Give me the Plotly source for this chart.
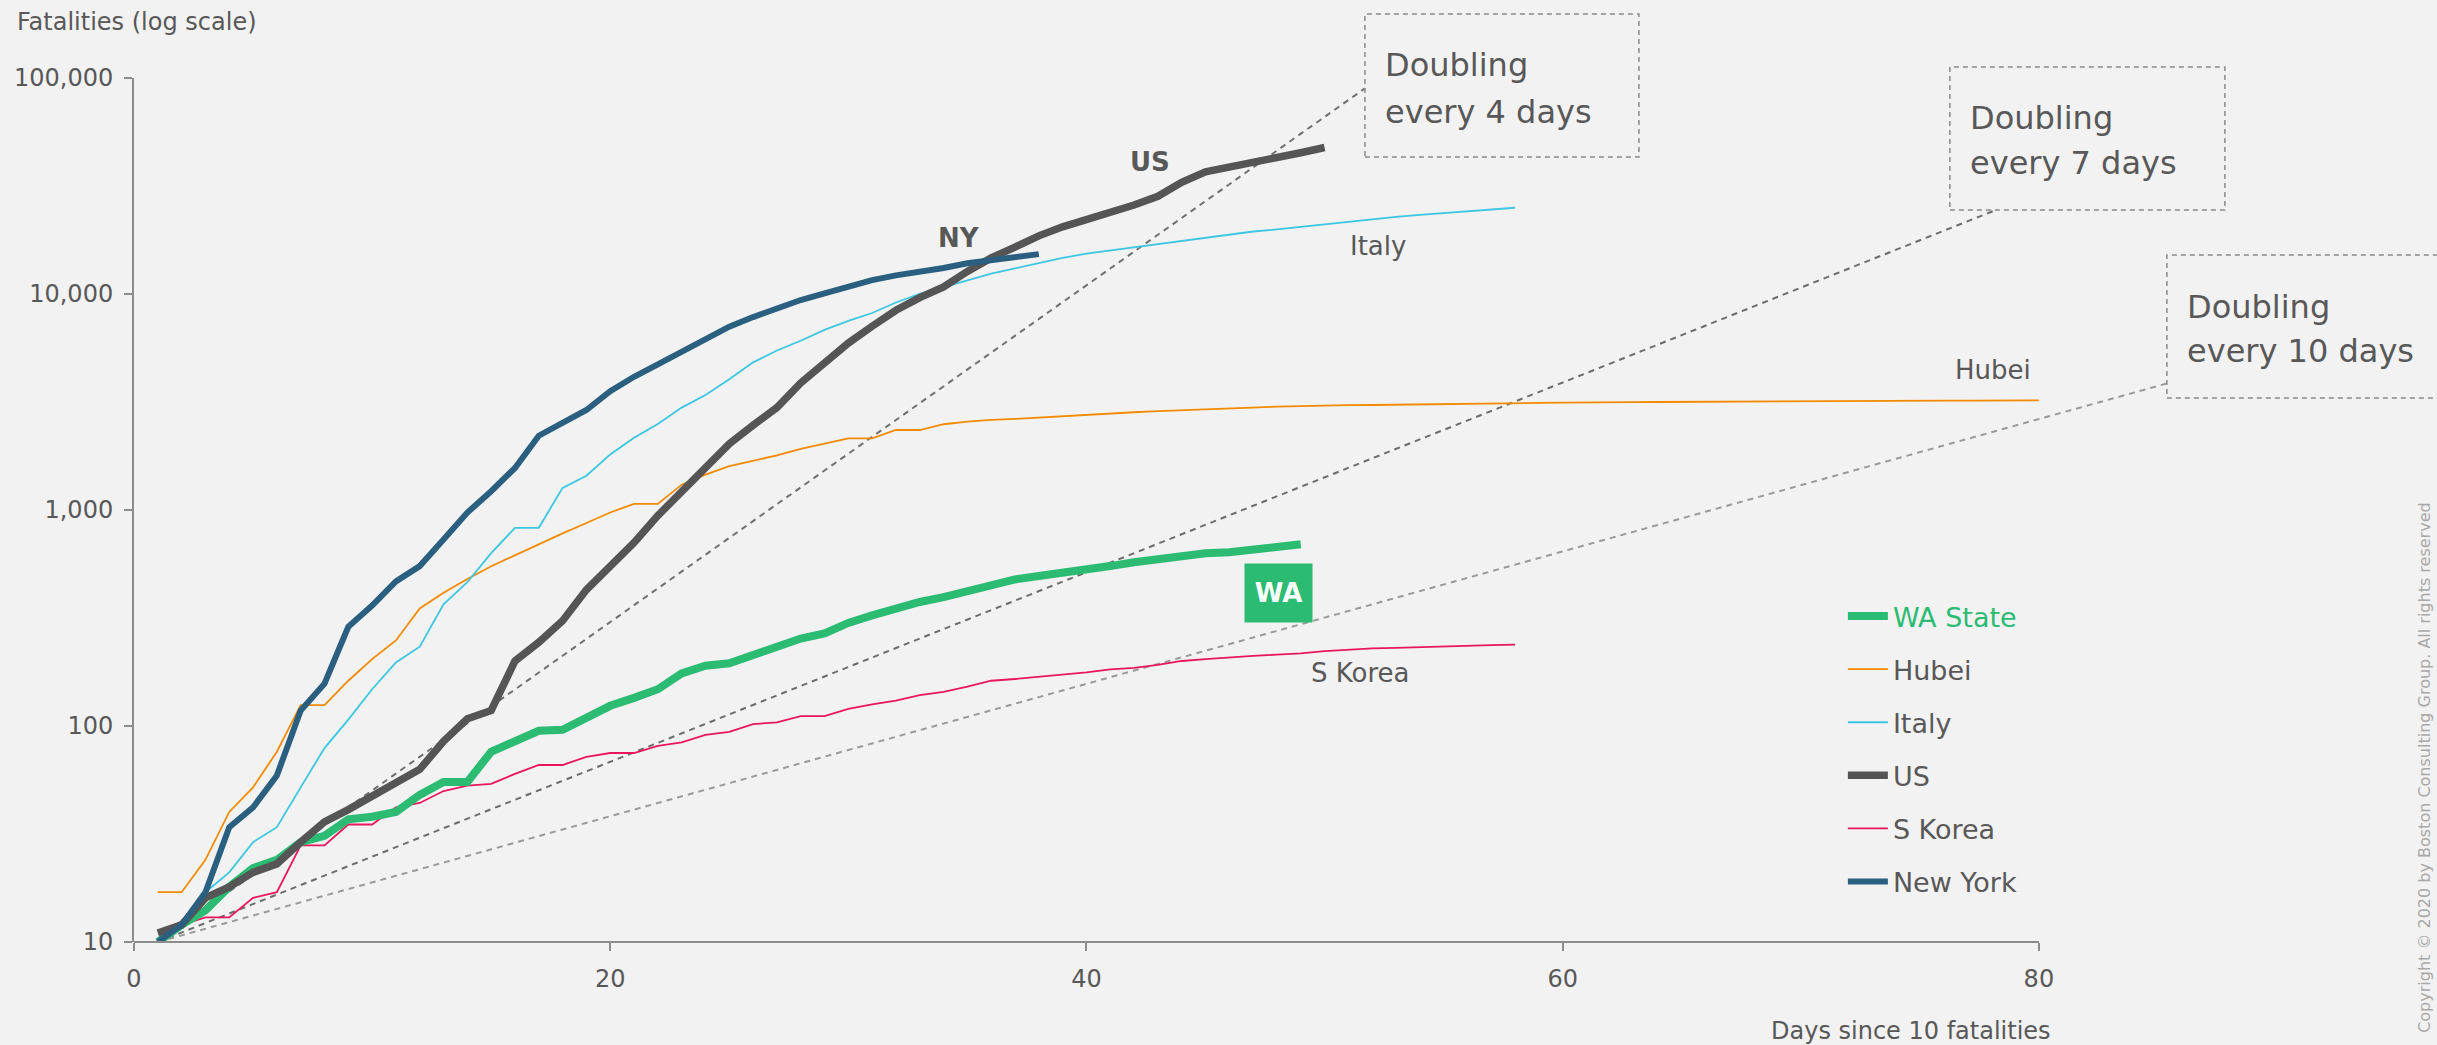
import plotly.graph_objects as go

# ---------------- data ----------------
wa_state = [10, 12, 14, 18, 22, 24, 29, 31, 37, 38, 40, 48, 55, 55, 76, 85, 95, 96, 110, 124,
            135, 148, 175, 190, 195, 212, 229, 254, 268, 300, 325, 350, 375, 395, 420, 450,
            477, 495, 510, 527, 550, 573, 592, 610, 631, 637, 655, 675, 694]
hubei = [17, 17, 24, 40, 52, 76, 125, 125, 162, 204, 249, 350, 414, 479, 549, 618, 699, 780,
         871, 974, 1068, 1068, 1310, 1457, 1596, 1696, 1789, 1921, 2029, 2144, 2144, 2346,
         2346, 2495, 2563, 2615, 2641, 2682, 2727, 2761, 2803, 2835, 2871, 2902, 2931, 2959,
         2986, 3008, 3024, 3046, 3056, 3062, 3075, 3085, 3099, 3111, 3122, 3130, 3133, 3139,
         3153, 3153, 3160, 3163, 3169, 3174, 3177, 3182, 3186, 3187, 3193, 3199, 3203, 3207,
         3210, 3212, 3212, 3213, 3215, 3216]
italy = [10, 12, 17, 21, 29, 34, 52, 79, 107, 148, 197, 233, 366, 463, 631, 827, 827, 1266,
         1441, 1809, 2158, 2503, 2978, 3405, 4032, 4825, 5476, 6077, 6820, 7503, 8165, 9134,
         10023, 10779, 11591, 12428, 13155, 13915, 14681, 15362, 15887, 16523, 17127, 17669,
         18279, 18849, 19468, 19899, 20465, 21067, 21645, 22170, 22745, 23227, 23660, 24114,
         24648, 25085]
us = [11, 12, 16, 18, 21, 23, 29, 36, 41, 47, 55, 63, 85, 108, 118, 200, 244, 307, 427, 552,
      706, 942, 1209, 1581, 2026, 2467, 2978, 3873, 4757, 5926, 7087, 8407, 9619, 10783, 12722,
      14695, 16478, 18586, 20463, 22020, 23529, 25832, 28326, 32916, 36773, 38664, 40661,
      42094, 45063, 47659]
s_korea = [10, 12, 13, 13, 16, 17, 28, 28, 35, 35, 42, 44, 50, 53, 54, 60, 66, 66, 72, 75, 75,
           81, 84, 91, 94, 102, 104, 111, 111, 120, 126, 131, 139, 144, 152, 162, 165, 169, 174,
           177, 183, 186, 192, 200, 204, 208, 211, 214, 217, 222, 225, 229, 230, 232, 234, 236,
           237, 238]
new_york = [10, 12, 17, 34, 42, 59, 118, 157, 288, 361, 467, 550, 731, 973, 1222, 1566, 2208,
            2522, 2904, 3550, 4137, 4725, 5410, 6235, 7058, 7820, 8630, 9380, 10060, 10800,
            11600, 12200, 12600, 13200, 13870, 14400, 14850, 15300]

# doubling reference lines (end points)
dbl4_days, dbl4_vals = [1, 51.7], [10, 89600]
dbl7_days, dbl7_vals = [1, 78.2], [10, 24500]
dbl10_days, dbl10_vals = [1, 85.4], [10, 3860]

x_tick_vals = [0, 20, 40, 60, 80]
y_tick_vals = [10, 100, 1000, 10000, 100000]
y_tick_text = ["10", "100", "1,000", "10,000", "100,000"]


def days(series):
    return list(range(1, len(series) + 1))


# ---------------- layout geometry (pixels) ----------------
FIG_W, FIG_H = 2437, 1045
L, TOP, BOT = 134, 78, 942
PX_PER_DAY = (2039 - 134) / 80
X_MAX = 90
R_EDGE = L + X_MAX * PX_PER_DAY
PW, PH = R_EDGE - L, BOT - TOP


def px(x):
    return (x - L) / PW


def py(y):
    return (BOT - y) / PH


FONT = "DejaVu Sans"
TXT = "#585858"
AX = "#8c8c8c"

fig = go.Figure()

for dx, dy, col in [(dbl4_days, dbl4_vals, "#707070"),
                    (dbl7_days, dbl7_vals, "#6c6c6c"),
                    (dbl10_days, dbl10_vals, "#9a9a9a")]:
    fig.add_trace(go.Scatter(x=dx, y=dy, mode="lines", showlegend=False, hoverinfo="skip",
                             line=dict(color=col, width=2, dash="6px,5px")))

series = [
    ("Hubei", hubei, "#f28a00", 1.8, 2),
    ("Italy", italy, "#3cc6e0", 1.8, 3),
    ("S Korea", s_korea, "#e8175d", 1.8, 5),
    ("<span style='color:#2bbb72'>WA State</span>", wa_state, "#2bbb72", 8, 1),
    ("US", us, "#555555", 7.5, 4),
    ("New York", new_york, "#2a5f80", 6, 6),
]
for name, vals, col, w, rank in series:
    fig.add_trace(go.Scatter(x=days(vals), y=vals, mode="lines", name=name,
                             legendgroup=str(rank), legendrank=rank,
                             line=dict(color=col, width=w)))

shapes = [
    dict(type="line", xref="x", yref="paper", x0=0, x1=80, y0=0, y1=0,
         line=dict(color=AX, width=2)),
]
for x0, y0, x1, y1 in [(1365, 14, 1639, 157), (1950, 67, 2225, 210), (2167, 255, 2447, 398)]:
    shapes.append(dict(type="rect", xref="paper", yref="paper",
                       x0=px(x0), x1=px(x1), y0=py(y1), y1=py(y0),
                       line=dict(color="#8a8a8a", width=1.5, dash="5px,4px")))

annotations = []


def ann(text, x, y, size, xanchor="center", yanchor="middle", color=TXT, **kw):
    annotations.append(dict(text=text, x=px(x), y=py(y), xref="paper", yref="paper",
                            xanchor=xanchor, yanchor=yanchor, showarrow=False,
                            font=dict(family=FONT, size=size, color=color), **kw))


ann("Fatalities (log scale)", 15, 22, 24, xanchor="left")
ann("Days since 10 fatalities", 2053, 1031, 24, xanchor="right")
for left, y1, y2, label in [(1383, 65, 112, "every 4 days"),
                            (1968, 118, 163, "every 7 days"),
                            (2185, 307, 351, "every 10 days")]:
    ann("Doubling", left, y1, 32, xanchor="left")
    ann(label, left, y2, 32, xanchor="left")
ann("<b>NY</b>", 959, 238, 26)
ann("<b>US</b>", 1150, 162, 26)
ann("Italy", 1378, 246, 26)
ann("Hubei", 1993, 370, 26)
ann("S Korea", 1360, 673, 26)
ann("<b>WA</b>", 1278.5, 593, 26, color="white", bgcolor="#2bbb72", width=65, height=56)
ann("Copyright © 2020 by Boston Consulting Group. All rights reserved", 2436, 500, 16,
    xanchor="right", yanchor="top", color="#a8a8a8", textangle=-90)

fig.update_layout(
    width=FIG_W, height=FIG_H, autosize=False,
    margin=dict(l=L, r=FIG_W - R_EDGE, t=TOP, b=FIG_H - BOT, pad=0),
    paper_bgcolor="#f2f2f2", plot_bgcolor="#f2f2f2",
    font=dict(family=FONT, size=24, color=TXT),
    xaxis=dict(range=[0, X_MAX], tickvals=x_tick_vals, ticks="outside", ticklen=8,
               tickwidth=1.5, tickcolor=AX, showgrid=False, zeroline=False, showline=False,
               tickfont=dict(size=24, color=TXT), ticklabelstandoff=7),
    yaxis=dict(type="log", range=[1, 5], tickvals=y_tick_vals, ticktext=y_tick_text,
               ticks="outside", ticklen=8, tickwidth=1.5, tickcolor=AX, showgrid=False,
               zeroline=False, showline=True, linecolor=AX, linewidth=2,
               tickfont=dict(size=24, color=TXT), ticklabelstandoff=6),
    legend=dict(x=px(1843), y=py(592), xanchor="left", yanchor="top",
                bgcolor="rgba(0,0,0,0)", font=dict(family=FONT, size=27, color=TXT),
                tracegroupgap=15, itemwidth=40),
    shapes=shapes,
    annotations=annotations,
    showlegend=True,
)

fig.write_html("out.html")
